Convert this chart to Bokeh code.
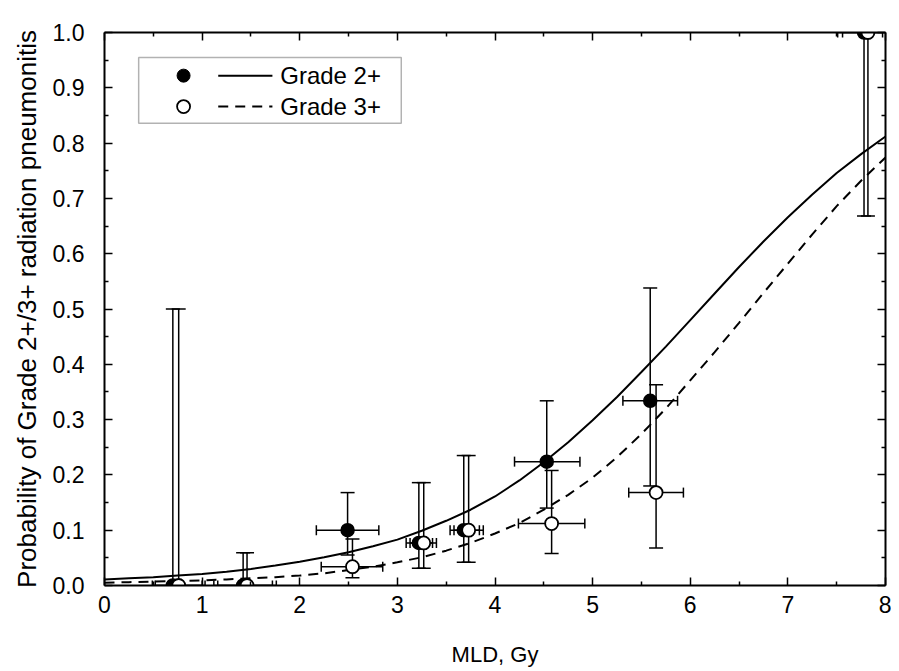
from bokeh.plotting import figure
from bokeh.models import (ColumnDataSource, Whisker, TeeHead, Range1d, LinearAxis,
                          FixedTicker, PrintfTickFormatter, BoxAnnotation, Label)
from bokeh.embed import file_html
from bokeh.resources import INLINE

# ---------------- data ----------------
# Grade 2+ observed (filled circles)
g2_x = [0.70, 1.42, 2.49, 3.22, 3.68, 4.53, 5.59, 7.78]
g2_y = [0.0, 0.0, 0.100, 0.077, 0.100, 0.224, 0.334, 1.0]
g2_y_lo = [0.0, 0.0, 0.055, 0.031, 0.042, 0.140, 0.180, 0.668]
g2_y_hi = [0.500, 0.059, 0.168, 0.186, 0.235, 0.334, 0.538, 1.0]
g2_x_lo = [0.49, 1.12, 2.17, 3.09, 3.54, 4.20, 5.31, 7.51]
g2_x_hi = [1.00, 1.72, 2.81, 3.36, 3.84, 4.87, 5.87, 7.97]

# Grade 3+ observed (open circles)
g3_x = [0.76, 1.46, 2.54, 3.27, 3.73, 4.58, 5.65, 7.82]
g3_y = [0.0, 0.0, 0.034, 0.077, 0.100, 0.112, 0.168, 1.0]
g3_y_lo = [0.0, 0.0, 0.014, 0.031, 0.042, 0.058, 0.068, 0.668]
g3_y_hi = [0.500, 0.059, 0.084, 0.186, 0.235, 0.208, 0.363, 1.0]
g3_x_lo = [0.52, 1.16, 2.22, 3.13, 3.58, 4.24, 5.37, 7.56]
g3_x_hi = [1.03, 1.76, 2.85, 3.40, 3.88, 4.92, 5.93, 8.03]

# fitted curves, every 0.25 Gy
fit_x = [0.0, 0.25, 0.5, 0.75, 1.0, 1.25, 1.5, 1.75, 2.0, 2.25, 2.5, 2.75, 3.0, 3.25,
         3.5, 3.75, 4.0, 4.25, 4.5, 4.75, 5.0, 5.25, 5.5, 5.75, 6.0, 6.25, 6.5, 6.75,
         7.0, 7.25, 7.5, 7.75, 8.0]
fit_g2 = [0.011, 0.013, 0.015, 0.018, 0.021, 0.025, 0.030, 0.036, 0.043, 0.051, 0.060,
          0.071, 0.083, 0.099, 0.117, 0.137, 0.161, 0.190, 0.223, 0.259, 0.299, 0.341,
          0.386, 0.432, 0.480, 0.528, 0.576, 0.622, 0.666, 0.707, 0.746, 0.780, 0.812]
fit_g3 = [0.005, 0.006, 0.007, 0.008, 0.009, 0.011, 0.013, 0.015, 0.018, 0.022, 0.028,
          0.034, 0.042, 0.051, 0.063, 0.077, 0.094, 0.113, 0.137, 0.164, 0.195, 0.232,
          0.274, 0.320, 0.371, 0.422, 0.475, 0.529, 0.582, 0.635, 0.686, 0.732, 0.774]

x_ticks = [0, 1, 2, 3, 4, 5, 6, 7, 8]
x_minor = [0.5, 1.5, 2.5, 3.5, 4.5, 5.5, 6.5, 7.5]
y_ticks = [0.0, 0.1, 0.2, 0.3, 0.4, 0.5, 0.6, 0.7, 0.8, 0.9, 1.0]
y_minor = [0.05, 0.15, 0.25, 0.35, 0.45, 0.55, 0.65, 0.75, 0.85, 0.95]

legend_labels = ["Grade 2+", "Grade 3+"]
x_title = "MLD, Gy"
y_title = "Probability of Grade 2+/3+ radiation pneumonitis"

FONT = "Liberation Sans"

# ---------------- figure ----------------
p = figure(width=891, height=669, output_backend="svg", toolbar_location=None,
           x_range=Range1d(0, 8), y_range=Range1d(0, 1),
           min_border_left=104, min_border_right=6, min_border_top=32, min_border_bottom=82,
           x_axis_location=None, y_axis_location=None)
p.xgrid.visible = False
p.ygrid.visible = False
p.outline_line_color = None
p.background_fill_color = "white"
p.border_fill_color = "white"


def style_axis(ax, ticks, minor, show_labels):
    ax.ticker = FixedTicker(ticks=ticks, minor_ticks=minor)
    ax.axis_line_width = 2
    ax.axis_line_color = "black"
    ax.major_tick_in = 8
    ax.major_tick_out = 0
    ax.minor_tick_in = 4
    ax.minor_tick_out = 0
    ax.major_tick_line_width = 1.5
    ax.minor_tick_line_width = 1.5
    ax.major_tick_line_color = "black"
    ax.minor_tick_line_color = "black"
    if show_labels:
        ax.major_label_text_font = FONT
        ax.major_label_text_font_size = "23px"
        ax.major_label_text_color = "black"
    else:
        # mirrored axis: ticks only, no labels drawn
        ax.major_label_text_font_size = "1px"
        ax.major_label_text_color = None
        ax.major_label_standoff = 0


xb = LinearAxis()
style_axis(xb, x_ticks, x_minor, True)
xb.major_label_standoff = 10
xb.formatter = PrintfTickFormatter(format="%d")
xb.axis_label = x_title
xb.axis_label_text_font = FONT
xb.axis_label_text_font_size = "22px"
xb.axis_label_text_font_style = "normal"
xb.axis_label_text_color = "black"
xb.axis_label_standoff = 26
p.add_layout(xb, "below")

yl = LinearAxis()
style_axis(yl, y_ticks, y_minor, True)
yl.major_label_standoff = 20
yl.formatter = PrintfTickFormatter(format="%.1f")
yl.axis_label = y_title
yl.axis_label_text_font = FONT
yl.axis_label_text_font_size = "26px"
yl.axis_label_text_font_style = "normal"
yl.axis_label_text_color = "black"
yl.axis_label_standoff = 8
p.add_layout(yl, "left")

xt = LinearAxis()
style_axis(xt, x_ticks, x_minor, False)
p.add_layout(xt, "above")

yr = LinearAxis()
style_axis(yr, y_ticks, y_minor, False)
p.add_layout(yr, "right")

# ---------------- fitted curves ----------------
p.line(fit_x, fit_g2, line_color="black", line_width=2)
p.line(fit_x, fit_g3, line_color="black", line_width=2, line_dash="10 7")

# ---------------- error bars ----------------
s2 = ColumnDataSource(dict(x=g2_x, y=g2_y, ylo=g2_y_lo, yhi=g2_y_hi, xlo=g2_x_lo, xhi=g2_x_hi))
s3 = ColumnDataSource(dict(x=g3_x, y=g3_y, ylo=g3_y_lo, yhi=g3_y_hi, xlo=g3_x_lo, xhi=g3_x_hi))

for src in (s2, s3):
    wv = Whisker(source=src, base="x", lower="ylo", upper="yhi", dimension="height",
                 line_color="black", line_width=1.5,
                 lower_head=TeeHead(size=14, line_width=1.5, line_color="black"),
                 upper_head=TeeHead(size=14, line_width=1.5, line_color="black"),
                 level="underlay")
    wh = Whisker(source=src, base="y", lower="xlo", upper="xhi", dimension="width",
                 line_color="black", line_width=1.5,
                 lower_head=TeeHead(size=10, line_width=1.5, line_color="black"),
                 upper_head=TeeHead(size=10, line_width=1.5, line_color="black"),
                 level="underlay")
    p.add_layout(wv)
    p.add_layout(wh)

# ---------------- markers ----------------
p.scatter("x", "y", source=s2, size=13, marker="circle",
          fill_color="black", line_color="black", line_width=1.5)
p.scatter("x", "y", source=s3, size=13, marker="circle",
          fill_color="white", line_color="black", line_width=1.8)

# ---------------- legend (drawn by hand to mimic the original layout) ----------------
p.add_layout(BoxAnnotation(left=0.35, right=3.04, bottom=0.836, top=0.955,
                           fill_color=None, line_color="black", line_width=1.5,
                           level="underlay"))
leg_y = [0.922, 0.866]
p.scatter([0.81], [leg_y[0]], size=13, fill_color="black", line_color="black")
p.scatter([0.81], [leg_y[1]], size=13, fill_color="white", line_color="black", line_width=1.8)
p.line([1.165, 1.72], [leg_y[0], leg_y[0]], line_color="black", line_width=2)
p.line([1.165, 1.72], [leg_y[1], leg_y[1]], line_color="black", line_width=2, line_dash="10 7")
for lab, yy in zip(legend_labels, leg_y):
    p.add_layout(Label(x=1.80, y=yy, text=lab, text_font=FONT, text_font_size="24px",
                       text_baseline="middle", text_color="black"))

open("out.html", "w").write(file_html(p, INLINE))
